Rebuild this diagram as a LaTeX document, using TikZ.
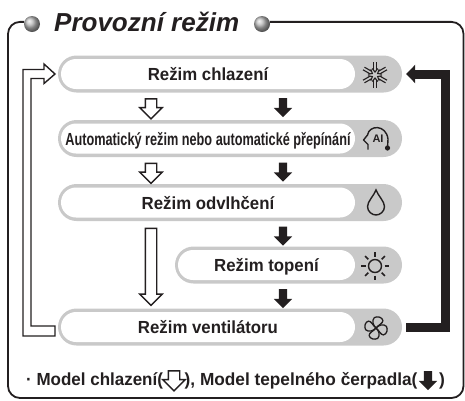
\documentclass[tikz,border=0pt]{standalone}
\usepackage{fontspec}
\setmainfont{Liberation Sans}
\usetikzlibrary{arrows.meta,calc,positioning,shapes.arrows,shapes.misc}
\definecolor{ink}{HTML}{231F20}
\definecolor{pillgray}{HTML}{C9C9C9}
\newcommand{\narrowtxt}[1]{\scalebox{.96}[1]{#1}}
\tikzset{
  pillback/.style={rounded rectangle,fill=pillgray,inner sep=0pt,minimum height=37pt},
  pillfront/.style={rounded rectangle,fill=white,inner sep=0pt,minimum height=30pt,text=ink,text height=13.5pt,text depth=0pt,font=\bfseries\fontsize{17.5}{20}\selectfont},
  hollowarrow/.style={single arrow,shape border rotate=270,draw=ink,line width=1.4pt,fill=white,inner sep=5pt,
    single arrow head extend=5.5pt,single arrow tip angle=90},
  solidarrow/.style={single arrow,shape border rotate=270,fill=ink,inner sep=4pt,
    single arrow head extend=5pt,single arrow tip angle=90},
  frameline/.style={draw=ink,line width=1.8pt,rounded corners=12pt},
  globe/.style={circle,minimum size=16pt,inner sep=0pt,ball color=gray!55},
  hollowflow/.style={draw=ink,line width=1.4pt,fill=white,line join=miter},
  bigflow/.style={draw=ink,line width=9pt,-{Triangle[length=9pt,width=18pt]},shorten >=4pt,shorten <=4pt},
  legend/.style={text=ink,font=\bfseries\fontsize{17.5}{20}\selectfont,inner sep=0pt,anchor=base west},
  icon/.style={draw=ink,line width=1.2pt},
  iconsnow/.pic={
    \foreach \a in {0,60,...,300}{
      \begin{scope}[rotate=\a]
        \draw[icon,line width=1.1pt] (-1.5,-5) -- (-1.5,-13) (1.5,-5) -- (1.5,-13);
        \draw[icon,line width=1.1pt] (-2.8,-6.5) -- (0,-3) -- (2.8,-6.5);
      \end{scope}}
  },
  iconauto/.pic={
    \draw[icon,line width=1.4pt,line join=round] (-9,11.5) -- (-9,6.5) -- (-13.5,2) -- (-9.5,-3) .. controls (-8,-13) and (9,-14) .. (11,1) -- (10.5,10);
    \fill[ink] (10.5,10) circle (2.6);
    \node[inner sep=0pt,text=ink,font=\bfseries\fontsize{11}{12}\selectfont] (ailabel) at (1,1) {AI};
  },
  icondrop/.pic={
    \draw[icon,line width=1.4pt] (0,-12.5) .. controls (-2,-7) and (-8.5,-1) .. (-8.5,4) .. controls (-8.5,9) and (-4,12.5) .. (0,12.5)
      .. controls (4,12.5) and (8.5,9) .. (8.5,4) .. controls (8.5,-1) and (2,-7) .. (0,-12.5) -- cycle;
  },
  iconsun/.pic={
    \draw[icon,line width=1.4pt] (0,0) circle (6.5);
    \foreach \a in {0,45,...,315}
      \draw[icon,line width=1.6pt,rotate=\a] (9.5,0) -- (14,0);
  },
  iconfan/.pic={
    \foreach \a in {0,90,180,270}
      \draw[icon,line width=1.3pt,rotate=\a,scale=1.15,line join=round] (0,0) .. controls (-2.5,-2.5) and (-4,-6) .. (-1.5,-9) .. controls (1,-10.5) and (5.5,-9.5) .. (6,-6.5)
        .. controls (6,-4) and (2.5,-3) .. (0,0);
  }
}
\begin{document}
\begin{tikzpicture}[x=1pt,y=-1pt,on grid]
\useasboundingbox (0,0) rectangle (465,400);
% title
\node[globe] (ballleft) at (32,24) {};
\node[globe] (ballright) at (262,24) {};
\node[text=ink,inner sep=0pt,anchor=base west,font=\bfseries\itshape\fontsize{26}{30}\selectfont] (title) at (54,31) {Provozní režim};
\draw[frameline] (ballright.15) -| (463.5,398) -- (8,398) |- (ballleft.165);
% pills
\node[pillback,minimum width=344pt] (pillcool) at (230,74) {};
\node[pillback,minimum width=344pt] (pillauto) [below=64.5pt of pillcool] {};
\node[pillback,minimum width=344pt] (pilldry) [below=64pt of pillauto] {};
\node[pillback,minimum width=227pt] (pillheat) at (288.5,265) {};
\node[pillback,minimum width=344pt] (pillfan) at (230,327) {};
\node[pillfront,minimum width=294pt] (cool) at (208,74) {\narrowtxt{Režim chlazení}};
\node[pillfront,minimum width=294pt] (auto) at (208,138.5) {\scalebox{.726}[1]{Automatický režim nebo automatické přepínání}};
\node[pillfront,minimum width=294pt] (dry) at (208,202.5) {\narrowtxt{Režim odvlhčení}};
\node[pillfront,minimum width=177pt] (heat) at (266.5,265) {\narrowtxt{Režim topení}};
\node[pillfront,minimum width=294pt] (fan) at (208,327) {\narrowtxt{Režim ventilátoru}};
% icons
\pic at (375,75) {iconsnow};
\pic at (377,138) {iconauto};
\pic at (376,202.5) {icondrop};
\pic at (375,266) {iconsun};
\pic at (376,328) {iconfan};
% arrows between the modes
\node[hollowarrow,minimum height=20pt] (w1) at (151,106) {};
\node[hollowarrow,minimum height=20pt] (w2) at (151,170.5) {};
\node[hollowarrow,minimum height=77pt] (w3) at (151,264) {};
\node[solidarrow,minimum height=19pt] (b1) at (283,105.5) {};
\node[solidarrow,minimum height=19pt] (b2) at (283,170) {};
\node[solidarrow,minimum height=19pt] (b3) at (283,234) {};
\node[solidarrow,minimum height=19pt] (b4) at (283,296.5) {};
% way back
\coordinate (backtail) at (55,331);
\coordinate (backtip) at (55,74);
\coordinate (turnright) at (445,200);
\draw[hollowflow] (backtail) ++(0,-5) -- ++(-24,0) -- ++(0,-247.5) -- ++(13,0) -- ++(0,5) -- (backtip) -- ++(-11,-10) -- ++(0,5.5) -- ++(-21,0) -- ++(0,266.5) -- ++(32,0) -- cycle;
\draw[bigflow] (pillfan.east) -| (turnright) |- (pillcool.east);
% legend
\node[legend] (leg1) at (26,385) {\scalebox{.97}[1]{· Model chlazení(}};
\node[hollowarrow,minimum height=20pt] (legw) at (174,378) {};
\node[legend] (leg2) at (184.5,385) {\scalebox{.985}[1]{), Model tepelného čerpadla(}};
\node[solidarrow,minimum height=19pt] (legb) at (428,378.5) {};
\node[legend] (leg3) at (439,385) {)};
\end{tikzpicture}
\end{document}
